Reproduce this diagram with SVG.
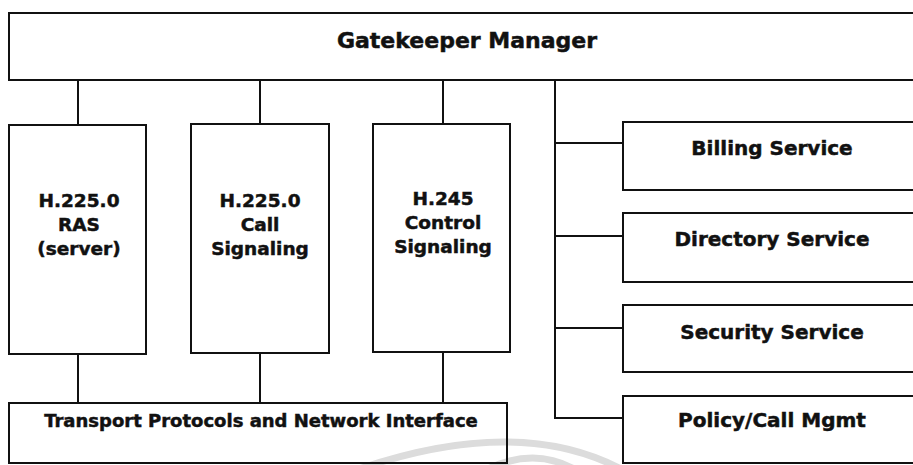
<svg xmlns="http://www.w3.org/2000/svg" width="913" height="465" viewBox="0 0 913 465">
  <style>
    .box { fill: none; stroke: #111; stroke-width: 2; }
    .wire { fill: none; stroke: #111; stroke-width: 2; }
    .lbl { font-family: "DejaVu Sans", Verdana, sans-serif; font-weight: bold; fill: #111; stroke: #111; stroke-width: 0.5; text-anchor: middle; }
    .big { font-size: 22px; }
    .svc { font-size: 20px; }
    .mod { font-size: 18.5px; }
    .net { font-size: 18px; }
    .mark { fill: none; stroke: #dcdcdc; stroke-width: 7; stroke-linecap: round; }
  </style>
  <rect x="0" y="0" width="913" height="465" fill="#fff"/>

  <!-- faint background emblem arcs -->
  <g id="emblem">
    <path class="mark" d="M 345 474 Q 520 410 630 474"/>
    <path class="mark" d="M 475 476 Q 535 440 585 476"/>
  </g>

  <!-- connectors -->
  <g id="connectors">
    <line class="wire" x1="78" y1="80" x2="78" y2="125"/>
    <line class="wire" x1="260" y1="80" x2="260" y2="124"/>
    <line class="wire" x1="443" y1="80" x2="443" y2="124"/>
    <line class="wire" x1="78" y1="354" x2="78" y2="403"/>
    <line class="wire" x1="260" y1="353" x2="260" y2="403"/>
    <line class="wire" x1="443" y1="352" x2="443" y2="403"/>
    <polyline class="wire" points="555,80 555,418 623,418"/>
    <line class="wire" x1="555" y1="143" x2="623" y2="143"/>
    <line class="wire" x1="555" y1="236" x2="623" y2="236"/>
    <line class="wire" x1="555" y1="328" x2="623" y2="328"/>
  </g>

  <g id="gatekeeper-manager">
    <rect class="box" x="9" y="13" width="920" height="67"/>
    <text class="lbl big" x="467" y="48">Gatekeeper Manager</text>
  </g>

  <g id="h225-ras">
    <rect class="box" x="9" y="125" width="137" height="229"/>
    <text class="lbl mod" x="79" y="207">H.225.0</text>
    <text class="lbl mod" x="79" y="231">RAS</text>
    <text class="lbl mod" x="79" y="255">(server)</text>
  </g>

  <g id="h225-call">
    <rect class="box" x="191" y="124" width="138" height="229"/>
    <text class="lbl mod" x="260" y="207">H.225.0</text>
    <text class="lbl mod" x="260" y="231">Call</text>
    <text class="lbl mod" x="260" y="255">Signaling</text>
  </g>

  <g id="h245-control">
    <rect class="box" x="373" y="124" width="137" height="228"/>
    <text class="lbl mod" x="443" y="205">H.245</text>
    <text class="lbl mod" x="443" y="229">Control</text>
    <text class="lbl mod" x="443" y="253">Signaling</text>
  </g>

  <g id="transport">
    <rect class="box" x="9" y="403" width="498" height="60"/>
    <text class="lbl net" x="261" y="427">Transport Protocols and Network Interface</text>
  </g>

  <g id="billing">
    <rect class="box" x="623" y="122" width="300" height="68"/>
    <text class="lbl svc" x="772" y="155">Billing Service</text>
  </g>

  <g id="directory">
    <rect class="box" x="623" y="213" width="300" height="69"/>
    <text class="lbl svc" x="772" y="246">Directory Service</text>
  </g>

  <g id="security">
    <rect class="box" x="623" y="305" width="300" height="67"/>
    <text class="lbl svc" x="772" y="339">Security Service</text>
  </g>

  <g id="policy">
    <rect class="box" x="623" y="396" width="300" height="67"/>
    <text class="lbl svc" x="772" y="427">Policy/Call Mgmt</text>
  </g>
</svg>
